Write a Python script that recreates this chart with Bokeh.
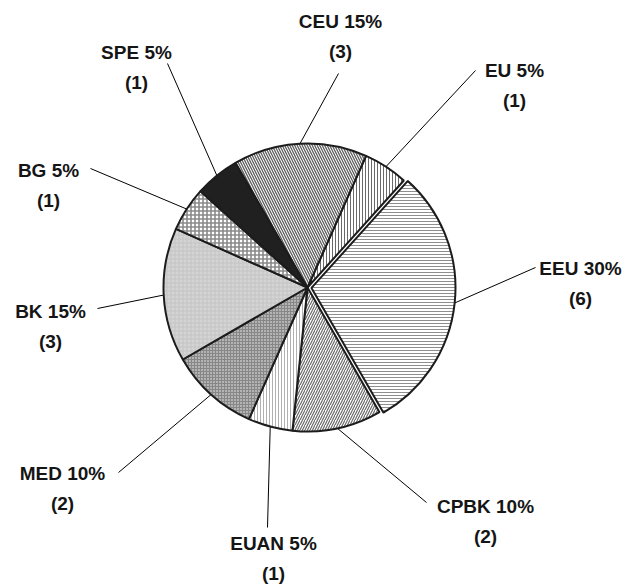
import numpy as np
from bokeh.plotting import figure
from bokeh.models import ColumnDataSource, Range1d
from bokeh.embed import file_html
from bokeh.resources import INLINE
from bokeh.core.properties import value

# Number of samples per region (clockwise from the top-right)
regions = ["EU", "EEU", "CPBK", "EUAN", "MED", "BK", "BG", "SPE", "CEU"]
counts = [1, 6, 2, 1, 2, 3, 1, 1, 3]

# Slice appearance
fill_colors = ["white", "white", "white", "white", "#b4b4b4", "#d4d4d4", "white", "#202020", "white"]
hatch_patterns = ["|", "-", "/", "|", "+", "+", "+", " ", "\\"]
hatch_colors = ["#6a6a6a", "#8e8e8e", "#6a6a6a", "#b0b0b0", "#878787", "#c4c4c4", "#8a8a8a", "#202020", "#5e5e5e"]
hatch_scales = [3, 3, 5, 3, 3, 4, 4, 4, 5]
hatch_weights = [1, 1, 1.2, 1, 1, 1, 1.6, 1, 1.3]
explode = [0, 4, 0, 0, 0, 0, 0, 0, 0]

# Page geometry (pixels, y measured from the top)
W, H = 627, 584
CX, CY_TOP = 307, 287
R = 144
START_DEG = 66

# Label anchors and leader-line starting points (pixels from the top-left)
label_xy = [(514, 70), (580, 268), (485, 506), (273, 543), (62, 473),
            (50, 311), (48, 170), (136, 52), (340, 21)]
leader_xy = [(475, 70), (535, 267), (426, 502), (267, 527), (118, 472),
             (97, 308), (90, 168), (167, 63), (338, 73)]
LINE_GAP = 30


def fy(y_top):
    return H - y_top


total = sum(counts)
shares = np.array(counts) / total
ends = START_DEG - np.concatenate([[0], np.cumsum(shares)[:-1]]) * 360
starts = ends - shares * 360
mids = (starts + ends) / 2
mid_rad = np.radians(mids)

ex = np.array(explode, dtype=float)
wx = CX + ex * np.cos(mid_rad)
wy = fy(CY_TOP) + ex * np.sin(mid_rad)

src = ColumnDataSource(dict(
    x=wx, y=wy,
    start=np.radians(starts), end=np.radians(ends),
    fill=fill_colors, hp=hatch_patterns, hc=hatch_colors,
    hs=hatch_scales, hw=hatch_weights,
))

p = figure(width=W, height=H, output_backend="svg", toolbar_location=None,
           x_range=Range1d(0, W), y_range=Range1d(0, H),
           min_border=0, background_fill_color="white",
           border_fill_color="white")
p.axis.visible = False
p.grid.visible = False
p.outline_line_color = None

# Leader lines from each label to the rim of its slice
x0 = [a for a, b in leader_xy]
y0 = [fy(b) for a, b in leader_xy]
x1 = wx + R * np.cos(mid_rad)
y1 = wy + R * np.sin(mid_rad)
p.segment(x0=x0, y0=y0, x1=x1, y1=y1, line_color="black", line_width=1)

p.wedge(x="x", y="y", radius=R, start_angle="start", end_angle="end",
        direction="anticlock", source=src,
        fill_color="fill", hatch_pattern="hp", hatch_color="hc",
        hatch_scale="hs", hatch_weight="hw",
        line_color="#1c1c1c", line_width=2)

line1 = [f"{n} {round(100 * c / total)}%" for n, c in zip(regions, counts)]
line2 = [f"({c})" for c in counts]
lx = [a for a, b in label_xy]
ly1 = [fy(b) for a, b in label_xy]
ly2 = [fy(b + LINE_GAP) for a, b in label_xy]

text_style = dict(text_font=value("Liberation Sans"), text_font_style="bold",
                  text_font_size="19px", text_align="center",
                  text_baseline="middle", text_color="#151515")
p.text(x=lx, y=ly1, text=line1, **text_style)
p.text(x=lx, y=ly2, text=line2, **text_style)

open("out.html", "w").write(file_html(p, INLINE))
